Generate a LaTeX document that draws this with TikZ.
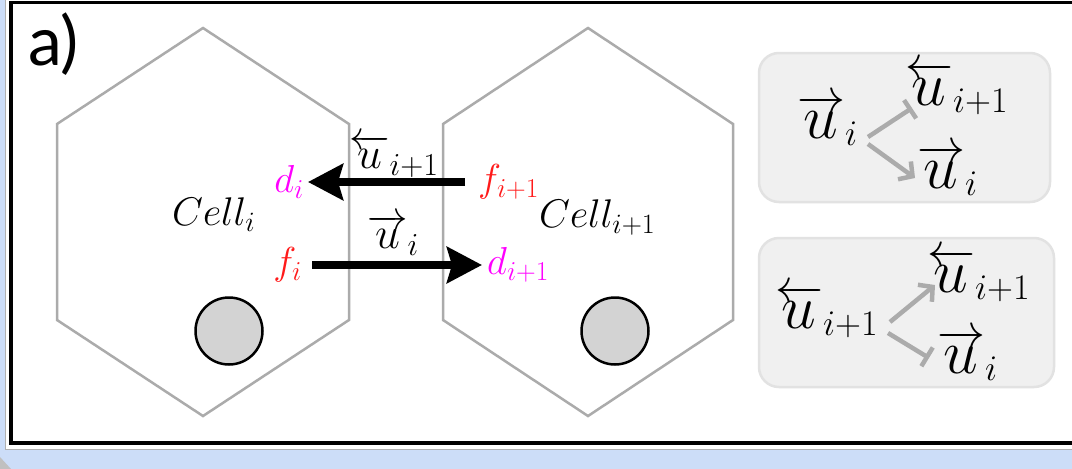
\RequirePackage{fix-cm}
\documentclass[tikz,border=0pt]{standalone}
\usepackage{graphicx}
\usepackage{fontspec}
\newfontfamily\panelfont{Lato}
\usetikzlibrary{arrows.meta}
\DeclareMathSizes{40.5}{40.5}{32}{24}
\DeclareMathSizes{48}{48}{36}{27}
\newcommand{\uscale}{1}
\newcommand{\uLft}{\overleftarrow{\mbox{\scalebox{\uscale}{$u$}}}}
\newcommand{\uRgt}{\overrightarrow{\mbox{\scalebox{\uscale}{$u$}}}}
\definecolor{bgblue}{HTML}{CCDDF8}
\definecolor{panelgray}{HTML}{B0B0B0}
\definecolor{hexgray}{HTML}{ABABAB}
\definecolor{boxfill}{HTML}{F0F0F0}
\definecolor{boxline}{HTML}{E2E2E2}
\definecolor{cellfill}{HTML}{D3D3D3}
\definecolor{dmag}{HTML}{FF00FF}
\definecolor{fred}{HTML}{FF1A1A}
\tikzset{
  hexcell/.style={draw=hexgray, line width=2.5pt, line join=miter},
  nucleus/.style={circle, draw=black, line width=2.5pt, fill=cellfill, minimum size=67pt, inner sep=0pt},
  celltext/.style={inner sep=0pt, font=\fontsize{40}{44}\selectfont},
  flowtext/.style={inner sep=0pt, font=\fontsize{39}{42}\selectfont},
  utext/.style={inner sep=0pt, font=\fontsize{40.5}{44}\selectfont\renewcommand{\uscale}{1.1}},
  boxtext/.style={inner sep=0pt, font=\fontsize{48}{52}\selectfont\renewcommand{\uscale}{1.3}},
  flowarrow/.style={line width=8pt, -{Stealth[length=35pt,width=36pt,inset=5pt]}},
  rulebox/.style={draw=boxline, line width=2.5pt, fill=boxfill, rounded corners=20pt},
  promote/.style={draw=hexgray, line width=4.5pt, -{Straight Barb[length=10pt,width=22pt]}},
  inhibit/.style={draw=hexgray, line width=4.5pt, -{Bar[width=22pt]}},
}
\begin{document}
\begin{tikzpicture}[x=1pt,y=-1pt]
\useasboundingbox (0,0) rectangle (1072,469);
% window background
\fill[bgblue] (0,0) rectangle (1072,469);
\fill[white] (5,-5) rectangle (1080,450);
\draw[panelgray, line width=1pt] (5.5,-5) -- (5.5,449.5) -- (1080,449.5);
\fill[panelgray!80] (0,457) -- (11,469) -- (0,469) -- cycle;
\draw[black, line width=3.3pt] (1080,2.5) -- (11,2.5) -- (11,443) -- (1080,443);

% panel label
\node[inner sep=0pt, anchor=base west, font=\panelfont\fontsize{68}{72}\selectfont] (lab) at (28,65) {a)};

% cells
\draw[hexcell] (203,28) -- (349,124) -- (349,320) -- (203,416) -- (57,320) -- (57,124) -- cycle;
\draw[hexcell] (588,28) -- (733,124) -- (733,320) -- (588,416) -- (443,320) -- (443,124) -- cycle;
\node[nucleus] (n0) at (229,331) {};
\node[nucleus] (n1) at (615,331) {};
\node[celltext, anchor=base west] (c0) at (172,225) {$Cell_i$};
\node[celltext, anchor=base west] (c1) at (539,227) {$Cell_{i+1}$};

% fluxes
\node[flowtext, anchor=east, text=dmag] (d0) at (304,182) {$d_i$};
\node[flowtext, anchor=west, text=fred] (f1) at (478,182) {$f_{i+1}$};
\node[flowtext, anchor=east, text=fred] (f0) at (302,265) {$f_i$};
\node[flowtext, anchor=west, text=dmag] (d1) at (487,265) {$d_{i+1}$};
\draw[flowarrow, shorten <=13pt, shorten >=4pt] (f1.west) -- (d0.east);
\draw[flowarrow, shorten <=10pt, shorten >=5pt] (f0.east) -- (d1.west);
\node[utext, anchor=base west] (ul) at (349,168) {$\uLft_{i+1}$};
\node[utext, anchor=base west] (ur) at (367,248) {$\uRgt_i$};

% rule boxes
\draw[rulebox] (759,53) rectangle (1050,202);
\draw[rulebox] (759,238) rectangle (1054,387);

\node[boxtext, anchor=base west] (a0) at (797,138) {$\uRgt_i$};
\node[boxtext, anchor=base west] (a1) at (905,105) {$\uLft_{i+1}$};
\node[boxtext, anchor=base west] (a2) at (917,188) {$\uRgt_i$};
\coordinate (a0s1) at (868,137);
\coordinate (a0e1) at (912,108);
\coordinate (a0s2) at (868,144);
\coordinate (a0e2) at (915,178);
\draw[inhibit] (a0s1) -- (a0e1);
\draw[promote] (a0s2) -- (a0e2);

\node[boxtext, anchor=base west] (b0) at (775,328) {$\uLft_{i+1}$};
\node[boxtext, anchor=base west] (b1) at (927,292) {$\uLft_{i+1}$};
\node[boxtext, anchor=base west] (b2) at (937,373) {$\uRgt_i$};
\coordinate (b0s1) at (890,322);
\coordinate (b0e1) at (935,285);
\coordinate (b0s2) at (888,333);
\coordinate (b0e2) at (929,358);
\draw[promote] (b0s1) -- (b0e1);
\draw[inhibit] (b0s2) -- (b0e2);
\end{tikzpicture}
\end{document}
